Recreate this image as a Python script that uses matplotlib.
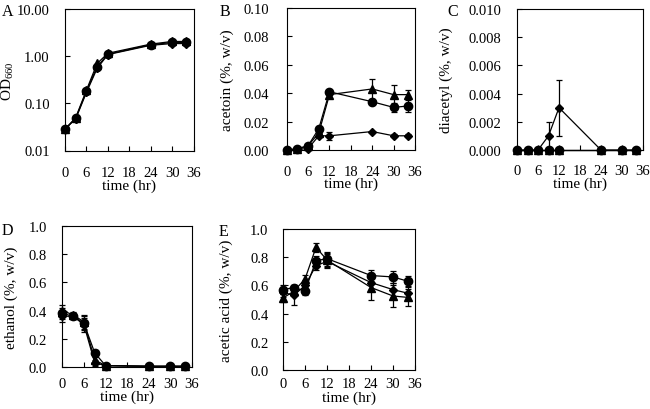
import matplotlib
matplotlib.use("Agg")
import matplotlib.pyplot as plt
from matplotlib.ticker import FixedLocator, FormatStrFormatter

plt.rcParams["font.family"] = ["Liberation Serif", "DejaVu Serif"]
plt.rcParams["mathtext.fontset"] = "custom"
plt.rcParams["mathtext.rm"] = "Liberation Serif"
plt.rcParams["mathtext.it"] = "Liberation Serif:italic"
plt.rcParams["font.size"] = 11

time = [0, 3, 6, 9, 12, 24, 30, 34]

# A: OD660
od_circle = [0.028, 0.048, 0.18, 0.60, 1.10, 1.75, 1.95, 1.95]
od_triangle = [0.028, 0.050, 0.19, 0.70, 1.15, 1.80, 2.05, 2.05]
od_diamond = [0.029, 0.047, 0.17, 0.55, 1.08, 1.70, 1.85, 1.85]

# B: acetoin
ac_circle = [0.0, 0.0005, 0.003, 0.015, 0.041, 0.034, 0.030, 0.031]
ac_circle_err = [0, 0, 0, 0, 0, 0.001, 0.003, 0.004]
ac_triangle = [0.0, 0.001, 0.003, 0.012, 0.039, 0.043, 0.039, 0.039]
ac_triangle_err = [0, 0, 0, 0, 0, 0.007, 0.007, 0.003]
ac_diamond = [0.0, 0.0005, 0.001, 0.010, 0.010, 0.013, 0.010, 0.010]
ac_diamond_err = [0, 0, 0, 0.001, 0.003, 0, 0.001, 0.001]

# C: diacetyl
di_circle = [0, 0, 0, 0, 0, 0, 0, 0]
di_triangle = [0, 0, 0, 0, 0, 0, 0, 0]
di_diamond = [0, 0, 0, 0.001, 0.003, 0, 0, 0]
di_diamond_err = [0, 0, 0, 0.001, 0.002, 0, 0, 0]

# D: ethanol
et_circle = [0.38, 0.36, 0.31, 0.10, 0.01, 0.005, 0.005, 0.005]
et_triangle = [0.40, 0.37, 0.32, 0.05, 0.01, 0.005, 0.005, 0.005]
et_diamond = [0.36, 0.36, 0.30, 0.03, 0.01, 0.005, 0.005, 0.005]
et_err = [0.04, 0.02, 0.05, 0.02, 0.005, 0, 0, 0]

# E: acetic acid
aa_circle = [0.57, 0.585, 0.56, 0.775, 0.79, 0.67, 0.66, 0.63]
aa_circle_err = [0.03, 0.02, 0.03, 0.03, 0.05, 0.04, 0.04, 0.04]
aa_triangle = [0.51, 0.56, 0.645, 0.87, 0.78, 0.585, 0.525, 0.515]
aa_triangle_err = [0.03, 0.03, 0.03, 0.03, 0.05, 0.09, 0.08, 0.06]
aa_diamond = [0.55, 0.53, 0.60, 0.74, 0.77, 0.62, 0.57, 0.545]
aa_diamond_err = [0.03, 0.07, 0.04, 0.03, 0.05, 0.05, 0.05, 0.05]

W, H = 650, 410
fig = plt.figure(figsize=(W / 100, H / 100), dpi=100)


def make_ax(l, r, t, b):
    return fig.add_axes([l / W, 1 - b / H, (r - l) / W, (b - t) / H])


def style(ax, ylabel, yticks, fmt, ylim, ypad, label_right, xpad=11, xlpad=-0.5):
    ax.set_xlim(0, 36)
    ax.set_ylim(*ylim)
    ax.xaxis.set_major_locator(FixedLocator([0, 6, 12, 18, 24, 30, 36]))
    ax.yaxis.set_major_locator(FixedLocator(yticks))
    ax.yaxis.set_minor_locator(FixedLocator([]))
    ax.yaxis.set_major_formatter(FormatStrFormatter(fmt))
    ax.tick_params(direction="in", length=3.5, width=0.8, labelsize=10.5)
    ax.tick_params(axis="x", pad=xpad)
    ax.tick_params(axis="y", pad=ypad)
    ax.set_xlabel("time (hr)", labelpad=xlpad)
    ax.set_ylabel(ylabel)
    # put the right edge of the rotated y label at a pixel column
    l = ax.get_position().x0 * W
    w = ax.get_position().width * W
    ax.yaxis.set_label_coords((label_right - l) / w, 0.5)
    for s in ax.spines.values():
        s.set_linewidth(0.8)


def series(ax, y, err, marker, ms):
    ax.errorbar(time, y, yerr=err, color="black", marker=marker, ms=ms,
                lw=0.9, elinewidth=0.9, capsize=2.5, capthick=0.9,
                clip_on=False, zorder=3)


# A
axA = make_ax(65, 193.5, 10, 151.5)
axA.set_yscale("log")
series(axA, od_diamond, None, "D", 4)
series(axA, od_triangle, None, "^", 6)
series(axA, od_circle, None, "o", 6)
style(axA, "OD$_{\\mathit{660}}$", [0.01, 0.1, 1, 10], "%.2f", (0.01, 10), 11, 16)

# B
axB = make_ax(286.7, 415, 9, 151)
series(axB, ac_diamond, ac_diamond_err, "D", 4)
series(axB, ac_triangle, ac_triangle_err, "^", 6)
series(axB, ac_circle, ac_circle_err, "o", 6)
style(axB, "acetoin (%, w/v)", [0, 0.02, 0.04, 0.06, 0.08, 0.10], "%.2f",
      (0, 0.10), 13, 234, xpad=10.5)

# C
axC = make_ax(517, 643, 10, 151)
series(axC, di_diamond, di_diamond_err, "D", 4)
series(axC, di_triangle, None, "^", 6)
series(axC, di_circle, None, "o", 6)
style(axC, "diacetyl (%, w/v)", [0, 0.002, 0.004, 0.006, 0.008, 0.010], "%.3f",
      (0, 0.010), 11, 453, xpad=10, xlpad=-0.5)

# D
axD = make_ax(62.3, 192, 227, 368)
series(axD, et_diamond, et_err, "D", 4)
series(axD, et_triangle, et_err, "^", 6)
series(axD, et_circle, et_err, "o", 6)
style(axD, "ethanol (%, w/v)", [0, 0.2, 0.4, 0.6, 0.8, 1.0], "%.1f",
      (0, 1.0), 11, 18, xpad=7.5, xlpad=-1)

# E
axE = make_ax(283, 415, 230, 371)
series(axE, aa_diamond, aa_diamond_err, "D", 4)
series(axE, aa_triangle, aa_triangle_err, "^", 6)
series(axE, aa_circle, aa_circle_err, "o", 6)
style(axE, "acetic acid (%, w/v)", [0, 0.2, 0.4, 0.6, 0.8, 1.0], "%.1f",
      (0, 1.0), 10.5, 233, xpad=5, xlpad=0.5)

# panel letters
for lab, x, y in [("A", 2, 12), ("B", 220, 12), ("C", 447, 12),
                  ("D", 2, 231), ("E", 219, 232)]:
    fig.text(x / W, 1 - y / H, lab, fontsize=11.5, va="center", ha="left")

fig.savefig("out.png", dpi=100)
